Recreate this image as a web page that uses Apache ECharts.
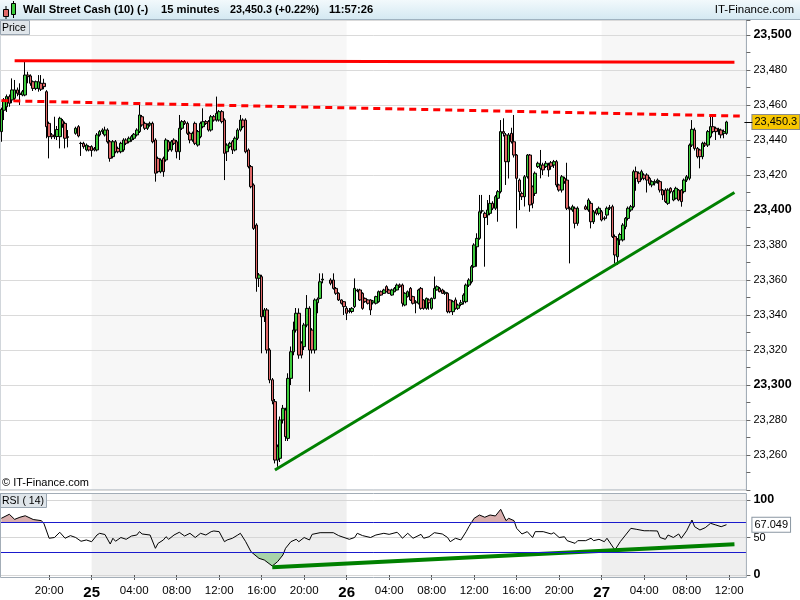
<!DOCTYPE html>
<html><head><meta charset="utf-8">
<script src="https://cdn.jsdelivr.net/npm/echarts@6/dist/echarts.min.js"></script>
<style>html,body{margin:0;padding:0;background:#fff}#c{width:800px;height:600px}</style>
</head><body><div id="c"></div>
<script>
const FONT = '"Liberation Sans", Arial, sans-serif';

// ---- data (15-minute bars, index 0 = 24th 15:30) ----
const ohlc = [
[23444.8,23457.5,23439,23458.5],[23457,23462.9,23451.4,23464],[23459,23464.8,23456,23466],[23464.8,23461,23459,23466],
[23462.9,23468.6,23461,23475.2],[23463.8,23468.6,23462,23474.3],[23468.6,23466.7,23465,23470],[23466.7,23466,23460,23472.4],
[23465.7,23467.6,23465,23468.6],[23465.7,23477.1,23465,23484.8],[23477.1,23476.2,23472.4,23479],[23476.6,23472.4,23471,23477.5],
[23473.3,23469.5,23468,23474],[23469.5,23473.3,23468.5,23474],[23469.5,23473.3,23467.6,23477.1],[23472.4,23469,23468,23477.1],
[23472.4,23470.5,23469,23475],[23467.6,23447.6,23441,23468.5],[23449.5,23441.9,23429.5,23450.5],[23442.9,23441.9,23440.5,23444],
[23441.9,23442.5,23440.5,23453.3],[23442,23446,23440,23448],[23441.9,23452.4,23435.2,23453.3],[23451,23449,23447,23452],
[23449.5,23441,23435.2,23450.5],[23441.9,23441.5,23435.8,23445.7],null,null,
[23443.8,23446.7,23443,23447.6],[23447.6,23442.3,23441.5,23448.5],[23438.1,23438,23430.9,23439],[23438.1,23436.2,23435,23439],
[23434.3,23437.1,23433.5,23438],[23436.2,23434.3,23433.5,23437],[23436.2,23434,23430.5,23437],[23435.2,23434.3,23433.5,23436],
[23434.3,23442.9,23433.5,23444],[23442.9,23444.8,23442,23445.7],[23444.8,23445.7,23443.5,23446.7],[23442.9,23445.7,23442,23447.6],
[23445.7,23439,23438,23446.7],[23439,23429.5,23427.6,23440],[23430.5,23439,23429.5,23440],[23439,23433.3,23432.4,23440],
[23435.2,23433.3,23432.4,23436.2],[23433.3,23438.1,23432.4,23439],[23434.3,23440,23433.3,23441],[23440,23438.1,23437.1,23441],
[23439,23441,23438.1,23442],[23440,23441.9,23439,23442.9],[23441,23443.3,23440,23444],[23442.9,23445.7,23442,23446.7],
[23444.8,23454.3,23444,23461],[23453.3,23448.6,23447.6,23454.3],[23449.5,23446.7,23445.7,23450.5],[23446.7,23448.6,23445.7,23449.5],
[23448.6,23449.5,23447.6,23450.5],[23449.5,23439,23438.1,23450.5],[23440,23421,23416.2,23441],[23429.5,23421.9,23421,23430.5],
[23421.9,23428.6,23421,23429.5],[23429.5,23421.9,23419,23430.5],[23428.6,23440,23427.6,23441],[23439,23434.3,23433.3,23440],
[23434.3,23439,23433.3,23440],[23440,23438.1,23437.1,23441],[23439,23433.3,23429.5,23440],[23433.3,23446.7,23428.6,23454.3],
[23446.7,23450.5,23445.7,23451.4],[23450.5,23449.5,23448.6,23451.4],[23449.5,23443.8,23442.9,23450.5],[23443.8,23440,23438.1,23444.8],
[23440,23443.8,23439,23444.8],[23449.5,23438.1,23437.1,23450.5],[23437.1,23444.8,23436.2,23445.7],[23441.9,23449.5,23441,23450.5],
[23447.6,23450.5,23446.7,23458.1],[23450.5,23449.5,23448.6,23451.4],[23450.5,23445.7,23444.8,23451.4],[23445.7,23453.3,23444.8,23454.3],
[23453.3,23451.4,23450.5,23454.3],[23451.4,23455.2,23450.5,23464.8],[23451.4,23456.2,23450.5,23457.1],[23456.2,23450.5,23449.5,23457.1],
[23451.4,23432.4,23417.1,23452.4],[23433.3,23437.1,23428,23438.1],[23436.2,23438.1,23435.2,23439],[23439,23434.3,23432,23440],
[23434.3,23441,23433.5,23442],[23441,23445.7,23440,23446.7],[23445.7,23451.4,23444.8,23454.3],[23451.4,23447.6,23446.7,23452.4],
[23451.4,23433.3,23432.4,23452.4],[23434.3,23424.8,23423.8,23435.2],[23424.8,23413.3,23412.4,23425.7],[23414.3,23389.5,23388.6,23415.2],
[23391.4,23361,23353.3,23392.4],[23361,23362.9,23356,23364],[23361.9,23339,23318.1,23363],[23339,23342.9,23336,23344],
[23342.9,23320,23318,23344],[23320,23302.9,23301,23321],[23303,23291,23289,23304],[23290.5,23257.1,23255.2,23292],
[23257.1,23264.8,23253.3,23266],[23258.1,23280,23256,23282],[23280,23286.7,23278,23288.6],[23285.7,23270.5,23268,23287],
[23269.5,23303.8,23268,23306.7],[23303.8,23319,23300,23322],[23319,23331.4,23317,23336.2],[23331.4,23341,23330,23344],
[23341,23317.1,23315,23343.8],[23324,23317.1,23315.2,23325],[23321.9,23334.3,23320,23335.5],[23334.3,23343.8,23333,23351.4],
[23343.8,23320,23296.2,23345],[23331.4,23320,23318,23332.5],[23320,23348.6,23318,23349.5],[23347,23349,23341,23350],
[23349.5,23359,23349,23363.8],[23360,23360.5,23358.1,23363.8],null,null,
[23360,23358.1,23357,23361],[23360,23355.2,23354.5,23363.8],[23355.2,23352.4,23351.5,23356],[23352.4,23348.6,23348,23353],
[23348.6,23346.7,23346,23349],[23347.6,23344.8,23340,23348],[23343.8,23341,23337.1,23345],[23342,23342.5,23341,23344],
[23342,23343.8,23341,23344.5],[23344.8,23355.2,23344,23360.9],[23354.3,23353.8,23353,23355],[23354.3,23348.6,23348,23355],
[23352.4,23343.8,23343,23353],[23349.5,23347.6,23347,23350],[23348.6,23346.7,23346,23349],[23348.6,23342.9,23340,23349],
[23347,23348,23346,23348.6],[23346.7,23350.5,23346,23351],[23347.6,23353.3,23347,23354],[23353.3,23351.4,23351,23354],
[23352.4,23354.3,23352,23355],[23356.2,23353.3,23353,23357],[23354.3,23352.4,23352,23355],[23351.4,23354.3,23351,23355],
[23353.3,23355.2,23353,23356],[23354.3,23357.1,23354,23358],[23357.1,23356.2,23355.5,23358],[23357.1,23346.7,23344.8,23358],
[23345.7,23352.4,23345,23353],[23350.5,23353.3,23350,23354],[23355.2,23348.6,23348,23356],[23350.5,23346.7,23346,23351],
[23347,23347.6,23341,23348.5],[23346.7,23354.3,23346,23355],[23355.2,23343.8,23343,23356],[23348.6,23343.8,23343,23349],
[23343.8,23349.5,23343,23350],[23348.6,23347,23343,23349.5],[23343.8,23349.5,23343,23350],[23349.5,23355.2,23349,23362],
[23354.3,23356.2,23354,23357],[23355.2,23353.3,23353,23356],[23354.3,23352.4,23352,23355],[23352.4,23353,23351.5,23354],
[23352.4,23341.9,23341,23353],[23348.6,23341.9,23341,23349],[23341.9,23347.6,23340,23348.5],[23348.6,23343.8,23343,23350],
[23343.8,23345.7,23342.9,23346.5],[23346,23347,23345,23348.6],[23347.6,23351.4,23346,23352.4],[23347.6,23357.1,23346.7,23358],
[23357.1,23360,23356,23361],[23359,23367.6,23358,23368.6],[23367.6,23380,23367,23381],[23379,23383.8,23367.6,23386.7],
[23383.8,23399,23383,23408.6],[23399.5,23399.5,23398,23408.6],[23398.1,23395.7,23367.6,23399],[23397.1,23400,23391.4,23405.7],
[23398.1,23403.8,23397,23408.6],[23403.8,23401,23400,23405],[23401,23407.6,23400,23408.6],[23406.7,23410.5,23393.3,23411.4],
[23410.5,23444.8,23409.5,23451.4],[23444.8,23443.8,23442,23452.4],[23442.9,23427.6,23414.3,23444],[23427.6,23442.9,23418,23444],
[23443.8,23439,23438,23447],[23439,23431.4,23430,23454.3],[23431.4,23418.1,23389.5,23432],[23417.1,23410.5,23400,23418],
[23409.5,23407.6,23405.7,23410.5],[23407.6,23419,23402,23420],[23419,23431.4,23418,23432],[23431.4,23402.9,23399,23432],
[23413.3,23403.8,23401,23414],[23409.5,23421,23408,23422],[23424.8,23426.7,23424,23427.6],[23423.8,23425.7,23418.1,23434.3],
[23425.7,23422.9,23420,23427],[23424.8,23426.7,23424,23428],[23425.7,23422.9,23419,23427],[23427,23425,23423,23428],
[23425.7,23427.6,23424,23428.6],[23427.6,23414.3,23413,23428.6],[23414.3,23411.4,23410.5,23415],[23411.4,23419,23410,23420],
[23418.1,23416.2,23415,23419],[23417.1,23401,23400,23427],[23401,23400.5,23369.5,23402],[23400,23401.9,23399,23403],
[23401,23392.4,23389.5,23402],[23392.4,23401,23391,23402],null,null,
[23401.9,23400.5,23400,23403],[23400,23405.7,23399,23406.7],[23403.8,23393.3,23389.5,23405],[23393.3,23399,23392,23400],
[23400,23398.1,23397,23401],[23398.1,23401,23397,23402],[23399,23394.3,23393.5,23400],[23395,23395.5,23394,23396.5],
[23397.1,23401,23395,23402],[23401,23401.5,23400,23402.9],[23401.9,23384.8,23384,23403],[23384.8,23374.3,23369.5,23386],
[23373.3,23382.9,23368.6,23384],[23382.9,23386,23380,23387],[23382.9,23391.4,23382,23392.5],[23390.5,23395.2,23389,23396],
[23395.2,23401,23394,23402],[23400,23401.9,23399,23402.9],[23401.9,23421.9,23401,23423],[23421.9,23418.1,23411,23424.8],
[23421,23416.2,23415,23422],[23418.1,23421.9,23417,23423],[23420,23418.1,23417,23421],[23420,23417.1,23410,23421],
[23418.1,23415.2,23414,23419],[23414.3,23416.2,23413,23417],[23415.5,23416.2,23414,23417.5],[23416.2,23417.1,23415,23418],
[23416.2,23411.4,23410,23417],[23411.4,23408.6,23405.7,23412],[23411.4,23404.8,23404,23412.4],[23403.8,23411.4,23402.9,23412.4],
[23412.4,23410.5,23409.5,23413],[23405.7,23410.5,23405,23411.4],[23406.7,23412.4,23406,23413.3],[23411.4,23405.7,23405,23412],
[23411.4,23404.8,23401.9,23412],[23410.5,23417.1,23409.5,23418],[23417.1,23419,23416,23420],[23418.1,23437.1,23417,23438],
[23437.1,23446.1,23436,23451.4],[23445.7,23435.2,23434,23447],[23435.2,23430.5,23429.5,23436],[23434.3,23430.5,23423.8,23435],
[23430.5,23438.1,23429,23439],[23438.1,23437.1,23436,23439],[23437.1,23444.8,23436,23445.7],[23441.9,23447.6,23441,23454.3],
[23447.6,23444.8,23443.8,23454.3],[23446.7,23444.8,23440,23447.6],[23445.7,23446.1,23443,23447],[23445.7,23442.9,23441,23446.5],
[23443.8,23444.8,23441,23446],[23443.8,23450.3,23443,23451]
];

const rsiBars = [0,3,5,7,9,12,15,16,18,20,22,24,26,28,30,32,34,36,37,39,41,42,43,45,47,49,51,52,53,56,58,59,61,62,63,65,67,69,71,73,75,77,79,80,82,84,85,87,89,90,92,94,97,99,102,104,106,107,109,111,112,114,116,117,120,125,127,131,133,134,136,139,141,144,146,149,150,151,153,155,158,159,161,163,166,168,169,171,173,175,176,178,180,182,184,186,188,190,191,193,194,196,198,200,201,204,207,208,210,212,213,216,217,220,222,223,225,227,228,231,233,235,237,239,242,244,247,248,250,251,253,255,256,258,260,261,263,265,267,269,271,273];
const rsiValues = [75.6,81,74.2,77,79,74,72.5,69,49,50,57,49,52.5,50,45,46.7,44.4,53.3,55.6,54,41.3,49,45,50,47.6,52,53.3,57.8,54.7,53.3,35.6,42.2,46.7,51.1,47.6,53.3,57,52,55.6,50,55.6,53.3,57.8,58.7,57.8,44.4,46.7,49,53.3,55.6,44.4,31,22.2,20,12,17.8,26.7,35.6,44.4,47.6,44.4,50,46.7,54.2,56.4,56.4,52.5,47.6,50,55.6,52.5,50,53.3,55.6,54.2,57,53.3,49,55.6,49,54.2,49,51,56.4,54.7,50,44.4,49,46.7,57.8,64.4,75.6,80,77,80,78.7,87.6,72.5,75.6,72.5,62.2,54.7,57.8,50,57.8,57.8,54.7,56.4,50,51,45.8,42.2,45.8,45.8,49,45.8,47.6,44.4,49,33.3,44.4,53.3,62.2,61,59,59,58.7,50,47.6,53.3,50,54.7,49,59,73.3,64.4,60,63.1,68.9,66.7,64.4,67.05];

const resistanceLine = [[5, 23485.3], [276, 23484.4]];
const dashedLine = [[0, 23462.5], [278, 23453.7]];
const supportLine = [[103, 23251.4], [276, 23410]];
const rsiTrendLine = [[102, 10.3], [276, 41]];
const lastPrice = 23450.3;
const lastRsi = 67.049;

const tickBars = [18,34,50,66,82,98,114,130,146,162,178,194,210,226,242,258,274];
const tickLabels = ['20:00','25','04:00','08:00','12:00','16:00','20:00','26','04:00','08:00','12:00','16:00','20:00','27','04:00','08:00','12:00'];
const dayShades = [[34, 130], [226, null]];

// ---- axis categories (15-minute slots) ----
const NCAT = 281;
const categories = [];
for (let k = 0; k < NCAT; k++) {
  const m = (15 * 60 + 30 + 15 * k) % 1440;
  categories.push(String(Math.floor(m / 60)).padStart(2, '0') + ':' + String(m % 60).padStart(2, '0'));
}
const BARW = 255 / 96;
const GRID_W = NCAT * BARW;

function comma(v) {
  const s = String(Math.round(v));
  return s.slice(0, s.length - 3) + ',' + s.slice(s.length - 3);
}

const chart = echarts.init(document.getElementById('c'), null, {renderer: 'canvas'});
const tickFn = (i) => tickBars.indexOf(i) >= 0;
const HIDDEN_LINE = {width: 0, color: 'rgba(0,0,0,0)'};

const option = {
  animation: false,
  backgroundColor: '#ffffff',
  textStyle: {fontFamily: FONT},
  grid: [
    {left: 0, top: 20, width: GRID_W, height: 470, show: true, borderColor: '#a3adb7', borderWidth: 1, backgroundColor: 'transparent'},
    {left: 0, top: 500, width: GRID_W, height: 75, show: false}
  ],
  xAxis: [
    {type: 'category', gridIndex: 0, data: categories, boundaryGap: true, show: false},
    {type: 'category', gridIndex: 1, data: categories, boundaryGap: true, offset: 3,
     axisLine: {show: false},
     axisTick: {show: true, interval: tickFn, alignWithLabel: true, length: 5, lineStyle: {color: '#555'}},
     axisLabel: {interval: tickFn, margin: 7, fontSize: 11.5, color: '#000', fontFamily: FONT,
       formatter: (v, i) => { const t = tickLabels[tickBars.indexOf(i)]; if (t === undefined) return ''; return t.indexOf(':') < 0 ? '{b|' + t + '}' : t; },
       rich: {b: {fontWeight: 'bold', fontSize: 15, fontFamily: FONT, color: '#000'}}},
     splitLine: {show: false}}
  ],
  yAxis: [
    {type: 'value', gridIndex: 0, position: 'right', min: 23240, max: 23500 + 15 / 1.75, interval: 20,
     axisLine: {show: true, lineStyle: {color: '#a3adb7'}},
     axisTick: {show: true, length: 4, lineStyle: {color: '#666'}},
     minorTick: {show: true, splitNumber: 2, length: 4, lineStyle: {color: '#666'}},
     splitLine: {show: true, lineStyle: {color: '#dadada', width: 1}},
     axisLabel: {margin: 7, fontSize: 11, color: '#000', fontFamily: FONT,
       formatter: (v) => { if (Math.abs(v % 20) > 1e-6 || v < 23250 || v > 23501) return ''; const s = comma(v); return (Math.abs(v % 100) < 1e-6) ? '{b|' + s + '}' : s; },
       rich: {b: {fontWeight: 'bold', fontSize: 12.5, fontFamily: FONT, color: '#000'}}}},
    {type: 'value', gridIndex: 1, position: 'right', min: 0, max: 100, interval: 50,
     axisLine: {show: false},
     axisTick: {show: true, length: 4, lineStyle: {color: '#666'}},
     splitLine: {show: true, lineStyle: {color: '#d6d6d6', width: 1}},
     axisLabel: {margin: 7, fontSize: 11, color: '#000', fontFamily: FONT,
       formatter: (v) => v === 50 ? '50' : (v === 0 || v === 100 ? '{b|' + v + '}' : ''),
       rich: {b: {fontWeight: 'bold', fontSize: 12.5, fontFamily: FONT, color: '#000'}}}}
  ],
  visualMap: [
    {type: 'piecewise', show: false, seriesIndex: 4, dimension: 1, pieces: [{gt: 70, lte: 1000, color: '#d8aeae'}], outOfRange: {color: 'rgba(255,255,255,0)'}},
    {type: 'piecewise', show: false, seriesIndex: 5, dimension: 1, pieces: [{gte: -1000, lt: 30, color: '#a8d3a8'}], outOfRange: {color: 'rgba(255,255,255,0)'}}
  ],
  series: [
    {type: 'candlestick', xAxisIndex: 0, yAxisIndex: 0, barWidth: 3, clip: false,
     data: ohlc.map(d => d ? d : ['-', '-', '-', '-']),
     itemStyle: {color: '#3ccc3c', color0: '#e06868', borderColor: '#000', borderColor0: '#000', borderWidth: 1},
     markLine: {silent: true, symbol: 'none', animation: false,
       data: [{yAxis: lastPrice, lineStyle: HIDDEN_LINE,
         label: {show: true, position: 'end', distance: 6, formatter: '23,450.3', fontSize: 11, fontFamily: FONT, color: '#000',
           backgroundColor: '#f7c600', borderColor: '#8a8a8a', borderWidth: 1, padding: [2, 2, 1, 2]}}]}},
    {type: 'line', xAxisIndex: 0, yAxisIndex: 0, data: resistanceLine, showSymbol: false, symbol: 'none',
     lineStyle: {color: '#ff0000', width: 3}, z: 5},
    {type: 'line', xAxisIndex: 0, yAxisIndex: 0, data: dashedLine, showSymbol: false, symbol: 'none',
     lineStyle: {color: '#ff0000', width: 3, type: [7, 5]}, z: 5},
    {type: 'line', xAxisIndex: 0, yAxisIndex: 0, data: supportLine, showSymbol: false, symbol: 'none',
     lineStyle: {color: '#008000', width: 3}, z: 5},
    {type: 'line', xAxisIndex: 1, yAxisIndex: 1, data: rsiBars.map((k, i) => [k, rsiValues[i]]), showSymbol: false, symbol: 'none',
     lineStyle: {opacity: 0}, areaStyle: {origin: 70, opacity: 1}, z: 1},
    {type: 'line', xAxisIndex: 1, yAxisIndex: 1, data: rsiBars.map((k, i) => [k, rsiValues[i]]), showSymbol: false, symbol: 'none',
     lineStyle: {opacity: 0}, areaStyle: {origin: 30, opacity: 1}, z: 1},
    {type: 'line', xAxisIndex: 1, yAxisIndex: 1, data: rsiBars.map((k, i) => [k, rsiValues[i]]), showSymbol: false, symbol: 'none',
     lineStyle: {color: '#000', width: 1}, z: 3,
     markLine: {silent: true, symbol: 'none', animation: false,
       data: [
         {yAxis: 30, lineStyle: {color: '#1a1acc', width: 1, type: 'solid'}, label: {show: false}},
         {yAxis: 70, lineStyle: {color: '#1a1acc', width: 1, type: 'solid'}, label: {show: false}},
         {yAxis: lastRsi, lineStyle: HIDDEN_LINE,
          label: {show: true, position: 'end', distance: 6, formatter: '67.049', fontSize: 11, fontFamily: FONT, color: '#000',
            backgroundColor: '#ffffff', borderColor: '#8a96a2', borderWidth: 1, padding: [2, 2, 1, 2]}}
       ]}},
    {type: 'line', xAxisIndex: 1, yAxisIndex: 1, data: rsiTrendLine, showSymbol: false, symbol: 'none',
     lineStyle: {color: '#008000', width: 4}, z: 4}
  ]
};
chart.setOption(option);

// background panels / annotations positioned from the axes
const xp = (k) => chart.convertToPixel({xAxisIndex: 1}, k);
const yMain = (v) => chart.convertToPixel({yAxisIndex: 0}, v);
const right = GRID_W;
const els = [];
dayShades.forEach(([a, b]) => {
  const x1 = xp(a), x2 = b === null ? right : xp(b);
  els.push({type: 'rect', z: -1, shape: {x: x1, y: 20, width: x2 - x1, height: 470}, style: {fill: '#f7f7f7'}});
  els.push({type: 'rect', z: -1, shape: {x: x1, y: 493, width: x2 - x1, height: 85}, style: {fill: '#efefef'}});
});
const TF = 'bold 11.2px ' + FONT;
els.push(
  // title bar
  {type: 'rect', z: 10, shape: {x: 0, y: 0, width: 800, height: 20},
   style: {fill: new echarts.graphic.LinearGradient(0, 0, 0, 1, [{offset: 0, color: '#f2f9fc'}, {offset: 1, color: '#d3e8f2'}])}},
  {type: 'line', z: 11, shape: {x1: 0, y1: 19.5, x2: 800, y2: 19.5}, style: {stroke: '#9fb2c0', lineWidth: 1}},
  {type: 'line', z: 11, shape: {x1: 6, y1: 6, x2: 6, y2: 19}, style: {stroke: '#000', lineWidth: 1}},
  {type: 'rect', z: 12, shape: {x: 3.5, y: 9.5, width: 5, height: 7}, style: {fill: '#e06868', stroke: '#000', lineWidth: 1}},
  {type: 'line', z: 11, shape: {x1: 13.5, y1: 1, x2: 13.5, y2: 18}, style: {stroke: '#000', lineWidth: 1}},
  {type: 'rect', z: 12, shape: {x: 11.5, y: 3.5, width: 4, height: 11}, style: {fill: '#3ccc3c', stroke: '#000', lineWidth: 1}},
  {type: 'text', z: 12, style: {x: 23, y: 10, text: 'Wall Street Cash (10) (-)', font: TF, fill: '#000', verticalAlign: 'middle'}},
  {type: 'text', z: 12, style: {x: 161, y: 10, text: '15 minutes', font: TF, fill: '#000', verticalAlign: 'middle'}},
  {type: 'text', z: 12, style: {x: 230, y: 10, text: '23,450.3 (+0.22%)', font: 'bold 10.8px ' + FONT, fill: '#000', verticalAlign: 'middle'}},
  {type: 'text', z: 12, style: {x: 329, y: 10, text: '11:57:26', font: TF, fill: '#000', verticalAlign: 'middle'}},
  {type: 'text', z: 12, style: {x: 794, y: 10, text: 'IT-Finance.com', font: '11.5px ' + FONT, fill: '#000', align: 'right', verticalAlign: 'middle'}},
  // price tag
  {type: 'rect', z: 12, shape: {x: 0.5, y: 20.5, width: 29, height: 14}, style: {fill: '#dfe5ea', stroke: '#9aa6b2', lineWidth: 1}},
  {type: 'text', z: 13, style: {x: 2, y: 28, text: 'Price', font: '10.5px ' + FONT, fill: '#000', verticalAlign: 'middle'}},
  {type: 'text', z: 13, style: {x: 2, y: 483, text: '\u00a9 IT-Finance.com', font: '11px ' + FONT, fill: '#000', verticalAlign: 'middle'}},
  // RSI panel
  {type: 'rect', z: 9, shape: {x: 0.5, y: 493.5, width: right - 0.5, height: 84}, style: {fill: 'none', stroke: '#a3adb7', lineWidth: 1}},
  {type: 'rect', z: 12, shape: {x: 0.5, y: 493.5, width: 46, height: 14}, style: {fill: '#dfe5ea', stroke: '#9aa6b2', lineWidth: 1}},
  {type: 'text', z: 13, style: {x: 2, y: 501, text: 'RSI ( 14)', font: '10.5px ' + FONT, fill: '#000', verticalAlign: 'middle'}},
  // current price tick
  {type: 'line', z: 12, shape: {x1: right - 2, y1: Math.round(yMain(lastPrice)) + 0.5, x2: right + 6, y2: Math.round(yMain(lastPrice)) + 0.5}, style: {stroke: '#000', lineWidth: 1}}
);
chart.setOption({graphic: {elements: els}});
</script>
</body></html>
